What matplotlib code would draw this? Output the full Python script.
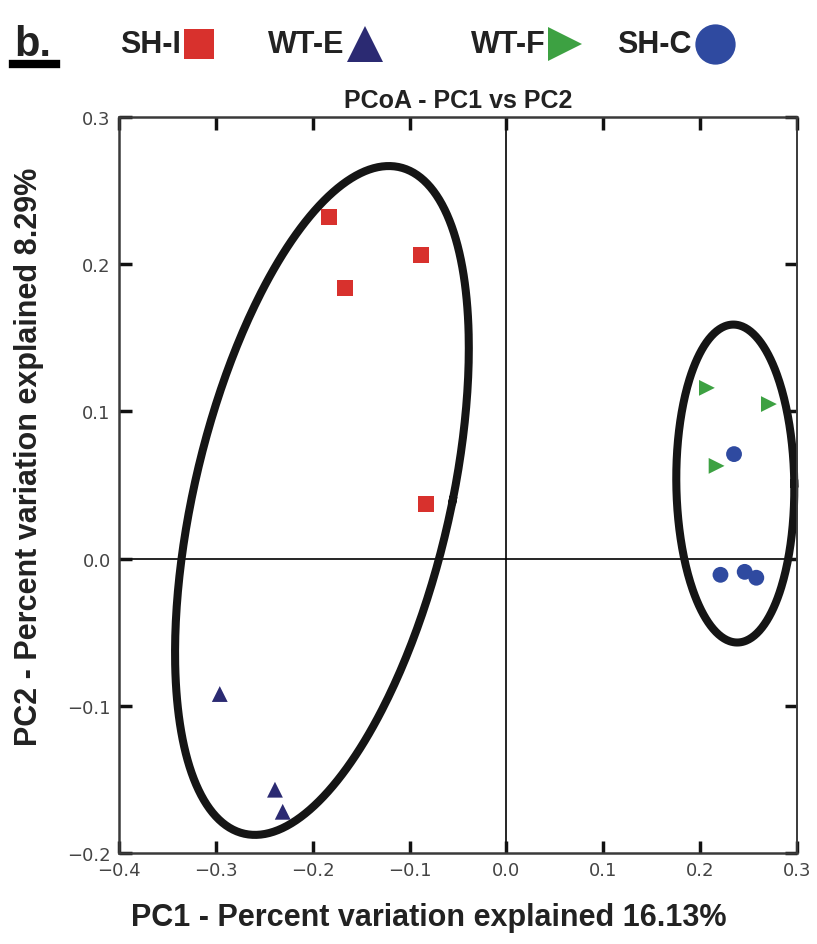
import numpy as np
import matplotlib
matplotlib.use("Agg")
import matplotlib.pyplot as plt
from matplotlib.lines import Line2D

# datos
grupos = ["SH-I", "WT-E", "WT-F", "SH-C"]
colores = ["#d8312d", "#2b2a72", "#3da142", "#2f4aa0"]
marcadores = ["s", "^", ">", "o"]

shi_x = [-0.183, -0.167, -0.088, -0.083]
shi_y = [0.232, 0.184, 0.206, 0.037]
wte_x = [-0.296, -0.239, -0.231]
wte_y = [-0.092, -0.157, -0.172]
wtf_x = [0.207, 0.271, 0.217]
wtf_y = [0.116, 0.105, 0.063]
shc_x = [0.235, 0.221, 0.246, 0.258]
shc_y = [0.071, -0.011, -0.009, -0.013]

# elipses: centro x, centro y, semieje x, semieje y, inclinacion
elipse1 = [-0.1905, 0.0395, 0.135, 0.2272, 0.0691]
elipse2 = [0.2363, 0.051, 0.0609, 0.108, -0.002]

xticks = [-0.4, -0.3, -0.2, -0.1, 0.0, 0.1, 0.2, 0.3]
yticks = [-0.2, -0.1, 0.0, 0.1, 0.2, 0.3]

fig = plt.figure(figsize=(8.17, 9.45), dpi=100)
ax = fig.add_axes([0.1457, 0.0963, 0.8298, 0.7788])

ax.axhline(0, color="black", lw=1.2, zorder=1)
ax.axvline(0, color="black", lw=1.2, zorder=1)

t = np.linspace(0, 2 * np.pi, 400)
for cx, cy, p, h, q in [elipse1, elipse2]:
    ex = cx + p * np.cos(t) + q * np.sin(t)
    ey = cy + h * np.sin(t)
    ax.plot(ex, ey, color="#151515", lw=5.8, zorder=2, clip_on=False)

datos = [(shi_x, shi_y), (wte_x, wte_y), (wtf_x, wtf_y), (shc_x, shc_y)]
for (xs, ys), c, m in zip(datos, colores, marcadores):
    ax.scatter(xs, ys, s=130, marker=m, color=c, edgecolors="none", zorder=3)

ax.set_xlim(-0.4, 0.3)
ax.set_ylim(-0.2, 0.3)
ax.set_xticks(xticks)
ax.set_yticks(yticks)
ax.set_xticklabels(["\u22120.4", "\u22120.3", "\u22120.2", "\u22120.1", "0.0", "0.1", "0.2", "0.3"])
ax.set_yticklabels(["\u22120.2", "\u22120.1", "0.0", "0.1", "0.2", "0.3"])
ax.tick_params(direction="in", length=9, width=2.5, color="#111111",
               labelsize=13, labelcolor="#444444", pad=6)
ax.tick_params(top=True, right=True)
for s in ax.spines.values():
    s.set_color("#3a3a3a")
    s.set_linewidth(1.8)
ax.spines["right"].set_linewidth(1.4)

fuente = ["Liberation Sans", "DejaVu Sans"]
ax.set_title("PCoA - PC1 vs PC2", fontsize=18, family=fuente, fontweight="bold",
             color="#222222", pad=7)
ax.set_xlabel("PC1 - Percent variation explained 16.13%", fontsize=22, family=fuente,
              fontweight="bold", color="#222222")
ax.set_ylabel("PC2 - Percent variation explained 8.29%", fontsize=22, family=fuente,
              fontweight="bold", color="#222222")
ax.xaxis.set_label_coords(0.457, -0.067)
ax.yaxis.set_label_coords(-0.111, 0.539)

# leyenda superior, a mano
texto_fin = [0.222, 0.422, 0.668, 0.847]
marca_x = [0.243, 0.447, 0.692, 0.875]
marca_tam = [22, 26, 24, 29]
fila_y = 0.952
for g, c, m, tx, mx, ms in zip(grupos, colores, marcadores, texto_fin, marca_x, marca_tam):
    fig.text(tx, fila_y, g, fontsize=22, fontweight="bold", family=fuente,
             color="#222222", ha="right", va="center")
    fig.add_artist(Line2D([mx], [fila_y], ls="none", marker=m, color=c,
                          markersize=ms, markeredgewidth=0, transform=fig.transFigure))

fig.text(0.018, 0.952, "b.", fontsize=30, fontweight="bold", family=fuente,
         color="#222222", va="center")
fig.add_artist(Line2D([0.016, 0.068], [0.931, 0.931], color="black", lw=6,
                      transform=fig.transFigure))

fig.savefig("out.png", dpi=100)
